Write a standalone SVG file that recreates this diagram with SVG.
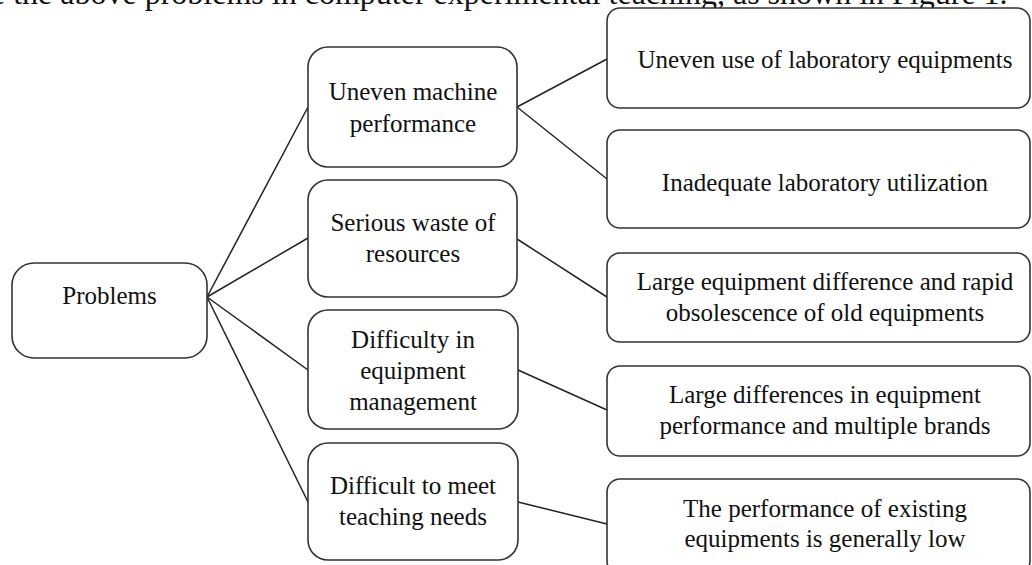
<svg xmlns="http://www.w3.org/2000/svg" width="1032" height="565" viewBox="0 0 1032 565">
<style>
.box{fill:#fff;stroke:#333;stroke-width:1.6}
.t{font-family:"Liberation Serif","Times New Roman",serif;font-size:25px;fill:#111;text-anchor:middle}
.c{stroke:#222;stroke-width:1.5;fill:none}
.cap{font-family:"Liberation Serif","Times New Roman",serif;font-size:32px;fill:#111}
</style>
<rect width="1032" height="565" fill="#fff"/>
<text class="cap" x="-9" y="4">e the above problems in computer experimental teaching, as shown in Figure 1.</text>
<g id="connectors">
<line class="c" x1="207" y1="297" x2="308" y2="107"/>
<line class="c" x1="207" y1="297" x2="308" y2="238"/>
<line class="c" x1="207" y1="297" x2="308" y2="370"/>
<line class="c" x1="207" y1="297" x2="308" y2="502"/>
<line class="c" x1="517" y1="107" x2="607" y2="59"/>
<line class="c" x1="517" y1="107" x2="607" y2="179"/>
<line class="c" x1="517" y1="239" x2="607" y2="297"/>
<line class="c" x1="518" y1="370" x2="607" y2="410"/>
<line class="c" x1="518" y1="502" x2="607" y2="524"/>
</g>
<g id="problems">
<rect class="box" x="12" y="263" width="195" height="95" rx="22"/>
<text class="t" x="109.5" y="304">Problems</text>
</g>
<g id="uneven-machine">
<rect class="box" x="308" y="47" width="209" height="120" rx="20"/>
<text class="t" x="413" y="100">Uneven machine</text>
<text class="t" x="413" y="132">performance</text>
</g>
<g id="serious-waste">
<rect class="box" x="308" y="180" width="209" height="117" rx="20"/>
<text class="t" x="413" y="231">Serious waste of</text>
<text class="t" x="413" y="262">resources</text>
</g>
<g id="difficulty-management">
<rect class="box" x="308" y="310" width="210" height="119" rx="20"/>
<text class="t" x="413" y="348">Difficulty in</text>
<text class="t" x="413" y="379">equipment</text>
<text class="t" x="413" y="410">management</text>
</g>
<g id="difficult-teaching">
<rect class="box" x="308" y="443" width="210" height="117" rx="20"/>
<text class="t" x="413" y="494">Difficult to meet</text>
<text class="t" x="413" y="525">teaching needs</text>
</g>
<g id="uneven-use">
<rect class="box" x="607" y="8" width="423" height="100" rx="13"/>
<text class="t" x="825" y="68">Uneven use of laboratory equipments</text>
</g>
<g id="inadequate">
<rect class="box" x="607" y="130" width="423" height="98" rx="13"/>
<text class="t" x="825" y="191">Inadequate laboratory utilization</text>
</g>
<g id="large-equipment-difference">
<rect class="box" x="607" y="253" width="423" height="89" rx="13"/>
<text class="t" x="825" y="290">Large equipment difference and rapid</text>
<text class="t" x="825" y="321">obsolescence of old equipments</text>
</g>
<g id="large-differences">
<rect class="box" x="607" y="366" width="423" height="90" rx="13"/>
<text class="t" x="825" y="403">Large differences in equipment</text>
<text class="t" x="825" y="434">performance and multiple brands</text>
</g>
<g id="performance-low">
<rect class="box" x="607" y="479" width="423" height="95" rx="13"/>
<text class="t" x="825" y="517">The performance of existing</text>
<text class="t" x="825" y="547">equipments is generally low</text>
</g>
</svg>
